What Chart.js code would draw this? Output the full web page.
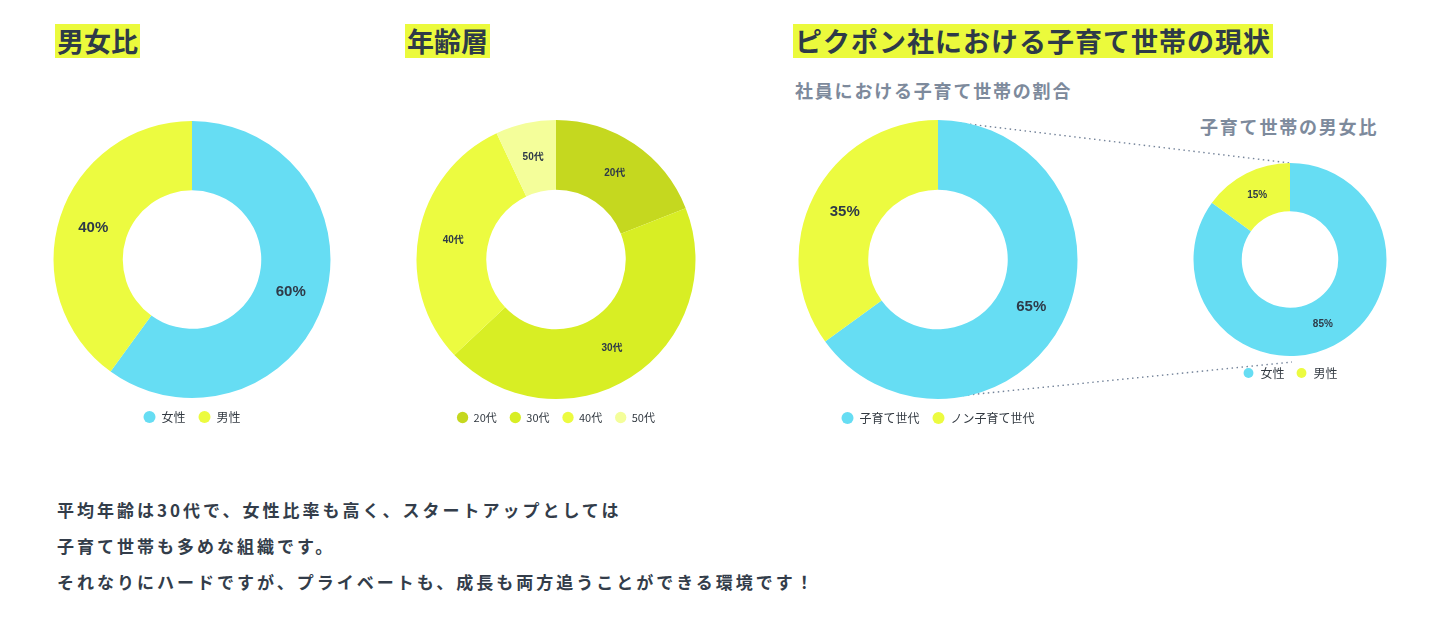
<!DOCTYPE html>
<html lang="ja">
<head>
<meta charset="utf-8">
<title>ピクポン社 社員構成</title>
<script src="https://cdn.jsdelivr.net/npm/chart.js@4.4.1/dist/chart.umd.min.js"></script>
<style>
  html, body {
    margin: 0;
    padding: 0;
    background: #ffffff;
  }
  body {
    width: 1440px;
    height: 617px;
    position: relative;
    overflow: hidden;
    font-family: "Noto Sans CJK JP", "Noto Sans", sans-serif;
    color: #2e3a48;
  }
  .title {
    position: absolute;
    top: 24px;
    height: 34px;
    line-height: 34px;
    font-size: 27px;
    font-weight: 700;
    background: #ebfa3c;
    padding: 0 2px;
    white-space: nowrap;
  }
  .sub {
    position: absolute;
    font-size: 18px;
    font-weight: 700;
    color: #7d8a9c;
    letter-spacing: 1.8px;
    white-space: nowrap;
  }
  .box {
    position: absolute;
  }
  .note {
    position: absolute;
    left: 57px;
    top: 492px;
    font-size: 17px;
    font-weight: 700;
    line-height: 36px;
    letter-spacing: 3px;
    color: #333d4a;
    white-space: nowrap;
  }
  svg.links {
    position: absolute;
    left: 0;
    top: 0;
  }
</style>
</head>
<body>

<div class="title" style="left:55px;">男女比</div>
<div class="title" style="left:405px;">年齢層</div>
<div class="title" style="left:793px; letter-spacing:1px;">ピクポン社における子育て世帯の現状</div>

<div class="sub" style="left:795px; top:77px;">社員における子育て世帯の割合</div>
<div class="sub" style="left:1200px; top:113px;">子育て世帯の男女比</div>

<svg class="links" width="1440" height="617">
  <line x1="960" y1="123" x2="1290" y2="163" stroke="#75849a" stroke-width="1.4" stroke-dasharray="1.5 3.5"/>
  <line x1="948" y1="397" x2="1292" y2="362" stroke="#75849a" stroke-width="1.4" stroke-dasharray="1.5 3.5"/>
</svg>

<div class="box" style="left:42px; top:121px; width:300px; height:312px;"><canvas id="chartGender"></canvas></div>
<div class="box" style="left:406px; top:120px; width:300px; height:313px;"><canvas id="chartAge"></canvas></div>
<div class="box" style="left:788px; top:120px; width:300px; height:314px;"><canvas id="chartFamily"></canvas></div>
<div class="box" style="left:1180px; top:163px; width:220px; height:226px;"><canvas id="chartParent"></canvas></div>

<div class="note">
  平均年齢は30代で、女性比率も高く、スタートアップとしては<br>
  子育て世帯も多めな組織です。<br>
  それなりにハードですが、プライベートも、成長も両方追うことができる環境です！
</div>

<script>
// data
const genderLabels = ["女性", "男性"];
const genderValues = [60, 40];

const ageLabels = ["20代", "30代", "40代", "50代"];
const ageValues = [19, 44, 30, 7];

const familyLabels = ["子育て世代", "ノン子育て世代"];
const familyValues = [65, 35];

const parentLabels = ["女性", "男性"];
const parentValues = [85, 15];

const cyan = "#66ddf3";
const yellow = "#ecfb40";
const ageColors = ["#c5d81f", "#d8ee24", "#ecfb40", "#f4fe9a"];
const textColor = "#2e3a48";

// labels on the ring
const arcLabels = {
  id: "arcLabels",
  afterDatasetsDraw(chart, args, opts) {
    const ctx = chart.ctx;
    const meta = chart.getDatasetMeta(0);
    ctx.save();
    ctx.font = `bold ${opts.size}px "Liberation Sans", Arial, "Noto Sans CJK JP", sans-serif`;
    ctx.fillStyle = textColor;
    ctx.textAlign = "center";
    ctx.textBaseline = "middle";
    meta.data.forEach((arc, i) => {
      const p = arc.tooltipPosition();
      ctx.fillText(opts.texts[i], p.x, p.y);
    });
    ctx.restore();
  },
};

function makeDonut(id, labels, values, colors, texts, labelSize, legendFont, legendPad, dot) {
  return new Chart(document.getElementById(id), {
    type: "doughnut",
    data: {
      labels: labels,
      datasets: [
        {
          data: values,
          backgroundColor: colors,
          borderWidth: 0,
          hoverOffset: 0,
        },
      ],
    },
    options: {
      responsive: true,
      maintainAspectRatio: false,
      animation: false,
      cutout: "50%",
      layout: { padding: 0 },
      plugins: {
        legend: {
          position: "bottom",
          labels: {
            usePointStyle: true,
            pointStyle: "circle",
            boxWidth: legendFont,
            boxHeight: dot,
            padding: legendPad,
            color: "#333a42",
            font: { size: legendFont, family: '"Noto Sans CJK JP", sans-serif' },
          },
        },
        tooltip: { enabled: false },
        arcLabels: { texts: texts, size: labelSize },
      },
    },
    plugins: [arcLabels],
  });
}

makeDonut(
  "chartGender",
  genderLabels,
  genderValues,
  [cyan, yellow],
  genderValues.map((v) => v + "%"),
  15, 12, 13, 8.5
);

makeDonut(
  "chartAge",
  ageLabels,
  ageValues,
  ageColors,
  ageLabels,
  10, 11, 13, 8
);

makeDonut(
  "chartFamily",
  familyLabels,
  familyValues,
  [cyan, yellow],
  familyValues.map((v) => v + "%"),
  15, 12, 13, 8.5
);

makeDonut(
  "chartParent",
  parentLabels,
  parentValues,
  [cyan, yellow],
  parentValues.map((v) => v + "%"),
  10, 12, 11, 7
);
</script>
</body>
</html>
